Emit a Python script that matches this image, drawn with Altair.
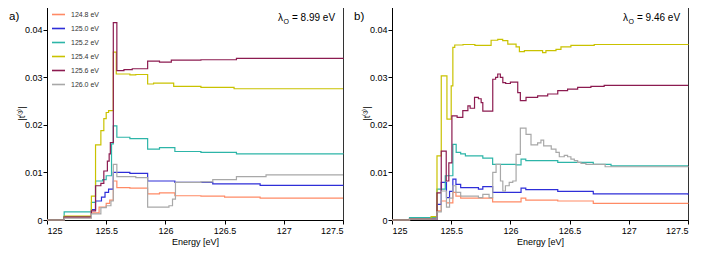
import altair as alt
import pandas as pd

series = ["124.8 eV", "125.0 eV", "125.2 eV", "125.4 eV", "125.6 eV", "126.0 eV"]
colors = ["#FF8A65", "#2E2ED8", "#2DB5A8", "#C9C200", "#8C1B50", "#A8A8A8"]

# ---------- panel a ----------
a_e124_8_x = [125.0, 125.145, 125.375, 125.44, 125.5, 125.53, 125.56, 125.59, 125.7, 125.85, 125.95, 126.08, 126.3, 126.5, 126.8, 127.5]
a_e124_8_y = [0, 0.0005, 0.0015, 0.0027, 0.0035, 0.0042, 0.0082, 0.0068, 0.0067, 0.0055, 0.0057, 0.0051, 0.0050, 0.0048, 0.0046, 0.0046]

a_e125_0_x = [125.0, 125.145, 125.375, 125.41, 125.46, 125.49, 125.52, 125.56, 125.7, 125.85, 126.08, 126.4, 126.8, 127.5]
a_e125_0_y = [0, 0.0007, 0.0022, 0.0040, 0.0048, 0.0058, 0.0065, 0.0100, 0.0098, 0.0082, 0.0079, 0.0076, 0.0073, 0.0072]

a_e125_2_x = [125.0, 125.145, 125.375, 125.41, 125.47, 125.5, 125.545, 125.56, 125.59, 125.7, 125.85, 125.95, 126.08, 126.3, 126.6, 127.5]
a_e125_2_y = [0, 0.0017, 0.0037, 0.0082, 0.0085, 0.0093, 0.0160, 0.0198, 0.0174, 0.0171, 0.0149, 0.0152, 0.0144, 0.0142, 0.0139, 0.0138]

a_e125_4_x = [125.0, 125.145, 125.375, 125.41, 125.455, 125.48, 125.5, 125.52, 125.56, 125.585, 125.7, 125.75, 125.85, 125.9, 126.07, 126.3, 126.58, 127.5]
a_e125_4_y = [0, 0.0008, 0.0050, 0.0158, 0.0188, 0.0213, 0.0226, 0.0230, 0.0353, 0.0307, 0.0305, 0.0306, 0.0286, 0.0288, 0.0281, 0.0279, 0.0276, 0.0276]

a_e125_6_x = [125.0, 125.145, 125.375, 125.41, 125.455, 125.48, 125.51, 125.525, 125.535, 125.56, 125.59, 125.65, 125.72, 125.85, 125.95, 126.05, 126.3, 126.6, 127.5]
a_e125_6_y = [0, 0.0006, 0.0019, 0.0072, 0.0077, 0.0103, 0.0124, 0.0139, 0.0163, 0.0415, 0.0314, 0.0316, 0.0318, 0.0334, 0.0332, 0.0336, 0.0337, 0.0340, 0.0341]

a_e126_0_x = [125.0, 125.145, 125.375, 125.455, 125.5, 125.54, 125.56, 125.59, 125.75, 125.85, 126.03, 126.06, 126.085, 126.3, 126.4, 126.6, 126.85, 127.5]
a_e126_0_y = [0, 0.0004, 0.0013, 0.0026, 0.0030, 0.0040, 0.0117, 0.0091, 0.0089, 0.0027, 0.0030, 0.0044, 0.0079, 0.0080, 0.0085, 0.0091, 0.0095, 0.0095]

# ---------- panel b ----------
b_e124_8_x = [125.0, 125.148, 125.38, 125.416, 125.46, 125.514, 125.54, 125.58, 125.85, 126.09, 126.13, 126.4, 126.7, 127.5]
b_e124_8_y = [0, 0.0002, 0.0019, 0.0040, 0.0036, 0.0058, 0.0050, 0.0046, 0.0038, 0.0046, 0.0042, 0.0040, 0.0035, 0.0034]

b_e125_0_x = [125.0, 125.148, 125.38, 125.416, 125.46, 125.486, 125.514, 125.54, 125.58, 125.73, 125.767, 125.85, 126.09, 126.13, 126.4, 126.7, 127.5]
b_e125_0_y = [0, 0.0002, 0.0033, 0.0079, 0.0047, 0.0060, 0.0086, 0.0075, 0.0068, 0.0065, 0.0070, 0.0058, 0.0067, 0.0064, 0.0060, 0.0055, 0.0053]

b_e125_2_x = [125.0, 125.148, 125.38, 125.45, 125.514, 125.542, 125.58, 125.62, 125.767, 125.85, 126.048, 126.09, 126.13, 126.4, 126.7, 126.85, 127.5]
b_e125_2_y = [0, 0.0005, 0.0065, 0.0093, 0.0159, 0.0142, 0.0139, 0.0135, 0.0130, 0.0117, 0.0116, 0.0128, 0.0125, 0.0121, 0.0117, 0.0114, 0.0114]

b_e125_4_x = [125.0, 125.148, 125.33, 125.38, 125.416, 125.464, 125.5, 125.514, 125.53, 125.6, 125.7, 125.837, 125.893, 125.935, 125.978, 126.048, 126.076, 126.118, 126.272, 126.3, 126.385, 126.427, 126.511, 126.708, 127.5]
b_e125_4_y = [0, 0.0002, 0.0007, 0.0135, 0.0303, 0.0212, 0.0282, 0.0363, 0.0368, 0.0369, 0.0367, 0.0378, 0.0380, 0.0377, 0.0370, 0.0364, 0.0354, 0.0356, 0.0352, 0.0356, 0.0359, 0.0364, 0.0367, 0.0369, 0.0368]

b_e125_6_x = [125.0, 125.148, 125.38, 125.416, 125.458, 125.48, 125.506, 125.55, 125.598, 125.641, 125.66, 125.697, 125.73, 125.753, 125.767, 125.851, 125.875, 125.893, 125.915, 125.936, 125.96, 126.0, 126.062, 126.084, 126.132, 126.23, 126.315, 126.4, 126.483, 126.568, 126.68, 126.792, 127.5]
b_e125_6_y = [0, 0.0002, 0.0057, 0.0145, 0.0082, 0.0120, 0.0219, 0.0216, 0.0230, 0.0240, 0.0235, 0.0258, 0.0255, 0.0247, 0.0229, 0.0296, 0.0300, 0.0307, 0.0300, 0.0289, 0.0287, 0.0290, 0.0268, 0.0251, 0.0258, 0.0261, 0.0265, 0.0272, 0.0275, 0.0279, 0.0281, 0.0283, 0.0283]

b_e126_0_x = [125.0, 125.148, 125.38, 125.416, 125.46, 125.486, 125.514, 125.54, 125.58, 125.73, 125.767, 125.82, 125.851, 125.879, 125.916, 125.936, 125.958, 125.99, 126.02, 126.048, 126.084, 126.132, 126.174, 126.23, 126.258, 126.281, 126.345, 126.385, 126.413, 126.455, 126.483, 126.511, 126.54, 126.568, 126.596, 126.638, 126.8, 127.5]
b_e126_0_y = [0, 0.0002, 0.0017, 0.0061, 0.0027, 0.0046, 0.0072, 0.0058, 0.0050, 0.0047, 0.0054, 0.0047, 0.0100, 0.0117, 0.0082, 0.0061, 0.0072, 0.0079, 0.0082, 0.0138, 0.0193, 0.0180, 0.0158, 0.0162, 0.0168, 0.0156, 0.0149, 0.0142, 0.0133, 0.0136, 0.0133, 0.0128, 0.0125, 0.0121, 0.0119, 0.0117, 0.0112, 0.0111]

panel_a = [(a_e124_8_x, a_e124_8_y), (a_e125_0_x, a_e125_0_y), (a_e125_2_x, a_e125_2_y),
           (a_e125_4_x, a_e125_4_y), (a_e125_6_x, a_e125_6_y), (a_e126_0_x, a_e126_0_y)]
panel_b = [(b_e124_8_x, b_e124_8_y), (b_e125_0_x, b_e125_0_y), (b_e125_2_x, b_e125_2_y),
           (b_e125_4_x, b_e125_4_y), (b_e125_6_x, b_e125_6_y), (b_e126_0_x, b_e126_0_y)]

FONT = "Liberation Sans"


def to_df(panel):
    rows = []
    for name, (xs, ys) in zip(series, panel):
        for i, (x, y) in enumerate(zip(xs, ys)):
            rows.append({"energy": x, "t": y, "series": name, "i": i})
    return pd.DataFrame(rows)


def make_panel(panel, letter, lam):
    df = to_df(panel)
    lines = alt.Chart(df).mark_line(interpolate="step-after", strokeWidth=1.2).encode(
        x=alt.X("energy:Q",
                scale=alt.Scale(domain=[125, 127.5], nice=False, zero=False),
                axis=alt.Axis(values=[125, 125.5, 126, 126.5, 127, 127.5], format="~g",
                              title="Energy [eV]", grid=False, tickSize=4, labelPadding=2,
                              titlePadding=2)),
        y=alt.Y("t:Q",
                scale=alt.Scale(domain=[0, 0.045], nice=False),
                axis=alt.Axis(values=[0, 0.01, 0.02, 0.03, 0.04],
                              labelExpr="datum.value == 0 ? '0' : format(datum.value, '.2f')",
                              title="|t⁽³⁾|", grid=False, tickSize=4, labelPadding=1,
                              titlePadding=-2)),
        color=alt.Color("series:N",
                        scale=alt.Scale(domain=series, range=colors),
                        legend=alt.Legend(orient="none", legendX=4, legendY=1, title=None,
                                          symbolType="stroke", symbolSize=170,
                                          symbolStrokeWidth=1.6, labelFontSize=7,
                                          labelOffset=5, rowPadding=3, padding=0,
                                          labelFont=FONT)),
        order="i:Q",
    )
    lab = alt.Chart(pd.DataFrame({"s": [letter]})).mark_text(
        align="left", baseline="alphabetic", fontSize=11.5, font=FONT, color="black"
    ).encode(x=alt.value(-38), y=alt.value(14), text="s:N")
    l1 = alt.Chart(pd.DataFrame({"s": ["λ"]})).mark_text(
        align="left", baseline="alphabetic", fontSize=10, font=FONT, color="black"
    ).encode(x=alt.value(231), y=alt.value(15), text="s:N")
    l2 = alt.Chart(pd.DataFrame({"s": ["O"]})).mark_text(
        align="left", baseline="alphabetic", fontSize=7, font=FONT, color="black"
    ).encode(x=alt.value(236.5), y=alt.value(17.5), text="s:N")
    l3 = alt.Chart(pd.DataFrame({"s": [lam]})).mark_text(
        align="left", baseline="alphabetic", fontSize=10, font=FONT, color="black"
    ).encode(x=alt.value(245), y=alt.value(15), text="s:N")
    return alt.layer(lines, lab, l1, l2, l3).properties(width=296, height=214)


pa = make_panel(panel_a, "a)", "= 8.99 eV")
pb = make_panel(panel_b, "b)", "= 9.46 eV")

chart = alt.hconcat(pa, pb, spacing=49, bounds="flush").properties(
    padding={"left": 0, "top": -3, "right": 0, "bottom": 0}
).configure_view(stroke="#333333", strokeWidth=1).configure_axis(
    labelFont=FONT, titleFont=FONT, labelFontSize=9, titleFontSize=9,
    labelColor="black", titleColor="black", domainColor="black", tickColor="black",
    titleFontWeight="normal"
).configure_legend(labelColor="#333333")

chart.save("out.html", embed_options={"renderer": "svg", "actions": False})
